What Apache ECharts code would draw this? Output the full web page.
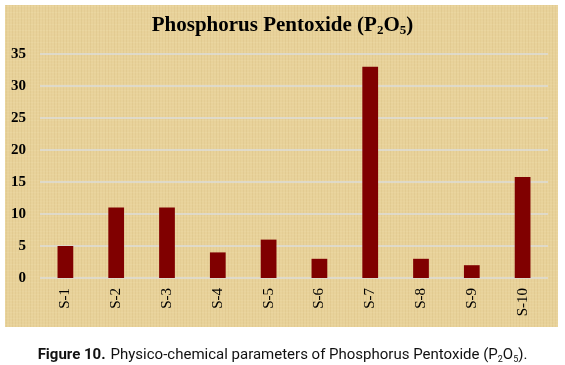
<!DOCTYPE html>
<html><head><meta charset="utf-8">
<script src="https://cdn.jsdelivr.net/npm/echarts@6/dist/echarts.min.js"></script>
<style>html,body{margin:0;padding:0;background:#fff}#c{width:565px;height:365px}</style>
</head><body><div id="c"></div>
<script>
const categories = ['S-1','S-2','S-3','S-4','S-5','S-6','S-7','S-8','S-9','S-10'];
const values = [5, 11, 11, 4, 6, 3, 33, 3, 2, 15.8];
const yTicks = [0, 5, 10, 15, 20, 25, 30, 35];

// papyrus-like texture
function makeTexture(){
  const cv = document.createElement('canvas');
  cv.width = 120; cv.height = 120;
  const ctx = cv.getContext('2d');
  ctx.fillStyle = '#e8d29a'; ctx.fillRect(0,0,120,120);
  for (let i=0;i<120;i+=3){
    const a = 0.06 + 0.06*Math.abs(Math.sin(i*0.37));
    ctx.fillStyle = 'rgba(185,145,75,'+a.toFixed(3)+')';
    ctx.fillRect(i,0,1,120);
    const b = 0.05 + 0.06*Math.abs(Math.cos(i*0.53));
    ctx.fillStyle = 'rgba(255,245,210,'+b.toFixed(3)+')';
    ctx.fillRect(0,i,120,1);
  }
  return cv;
}

const chart = echarts.init(document.getElementById('c'));
chart.setOption({
  backgroundColor: '#ffffff',
  animation: false,
  graphic: [{
    type: 'rect', z: -10, silent: true,
    shape: {x: 5, y: 5, width: 553, height: 322},
    style: {fill: {image: makeTexture(), repeat: 'repeat'}}
  }],
  title: [{
    text: '{t|Phosphorus Pentoxide (P}{s|2}{t|O}{s|5}{t|)}',
    left: 'center', top: 10,
    textStyle: {
      rich: {
        t: {fontFamily: 'Liberation Serif', fontWeight: 'bold', fontSize: 21, color: '#000'},
        s: {fontFamily: 'Liberation Serif', fontWeight: 'bold', fontSize: 13, color: '#000', padding: [9,0,0,0]}
      }
    }
  },{
    text: '{b|Figure 10.} {n|Physico-chemical parameters of Phosphorus Pentoxide (P}{s|2}{n|O}{s|5}{n|).}',
    left: 'center', top: 341,
    textStyle: {
      rich: {
        b: {fontFamily: 'Roboto', fontWeight: 'bold', fontSize: 15, color: '#111'},
        n: {fontFamily: 'Roboto', fontWeight: 'normal', fontSize: 15, color: '#111'},
        s: {fontFamily: 'Roboto', fontWeight: 'normal', fontSize: 9, color: '#111', padding: [9,0,0,0]}
      }
    }
  }],
  grid: {left: 40, right: 17, top: 54, bottom: 87, containLabel: false},
  xAxis: {
    type: 'category', data: categories,
    axisLine: {show: false}, axisTick: {show: false},
    axisLabel: {rotate: 90, margin: 10, fontFamily: 'Liberation Serif', fontSize: 15, color: '#000'}
  },
  yAxis: {
    type: 'value', min: 0, max: 35, interval: 5,
    axisLine: {show: false}, axisTick: {show: false},
    splitLine: {lineStyle: {color: '#dcdcd8', width: 1.5}},
    axisLabel: {margin: 14, fontFamily: 'Liberation Serif', fontWeight: 'bold', fontSize: 15, color: '#000',
      formatter: v => yTicks.includes(v) ? String(v) : ''}
  },
  series: [{
    type: 'bar', data: values, barWidth: '31%',
    itemStyle: {color: '#800000'}
  }]
});
</script></body></html>
